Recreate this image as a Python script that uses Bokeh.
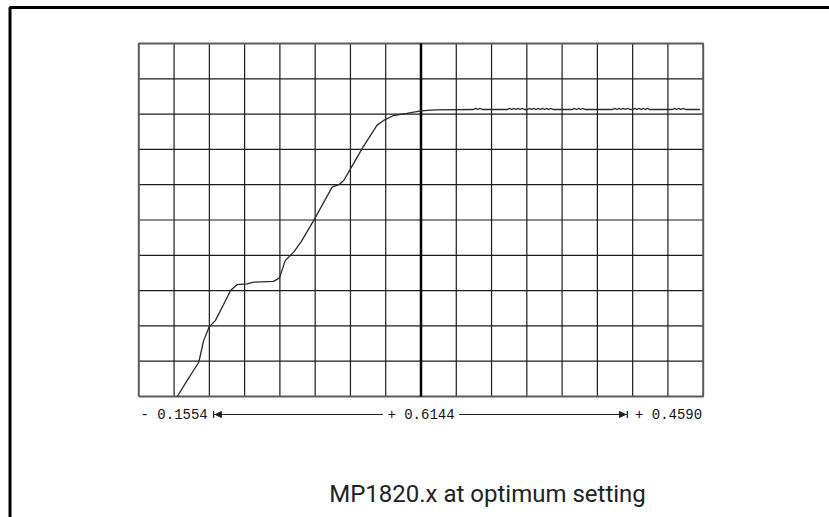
from bokeh.plotting import figure
from bokeh.models import Range1d, Arrow, NormalHead, TeeHead
from bokeh.core.properties import value
from bokeh.embed import file_html
from bokeh.resources import INLINE

# ---- data (in screen divisions: 16 horizontal x 10 vertical) ----
n_cols = 16
n_rows = 10
center_col = 8

curve_x = [1.09, 1.40, 1.70, 1.84, 2.00, 2.17, 2.40, 2.60, 2.79, 3.07, 3.26, 3.82,
           3.99, 4.15, 4.39, 4.60, 4.96, 5.48, 5.67, 5.81, 6.00, 6.33, 6.75, 6.94,
           7.22, 7.60, 7.83, 8.00, 8.40, 9.49, 9.55, 9.61, 9.67, 9.74,
           10.45, 10.51, 10.57, 10.63, 10.69, 10.75, 10.81, 10.87, 10.93, 11.02,
           11.08, 11.14, 11.20, 11.26, 11.32, 11.38, 11.44, 11.50, 11.56, 11.62,
           11.68, 11.75, 12.29, 12.35, 12.41, 12.47, 12.53, 12.59, 12.65, 12.72,
           13.43, 13.49, 13.55, 13.61, 13.67, 13.73, 13.79, 13.85, 13.94, 14.00,
           14.06, 14.12, 14.18, 14.24, 14.30, 14.36, 14.42, 14.48, 14.57,
           15.13, 15.19, 15.25, 15.31, 15.37, 15.43, 15.50, 15.91]
curve_y = [0.00, 0.50, 0.97, 1.59, 1.98, 2.15, 2.60, 3.00, 3.17, 3.19, 3.24, 3.26,
           3.36, 3.85, 4.09, 4.38, 4.99, 5.93, 6.00, 6.12, 6.45, 7.02, 7.68, 7.82,
           7.96, 8.02, 8.06, 8.09, 8.12, 8.13, 8.16, 8.13, 8.16, 8.13,
           8.13, 8.16, 8.13, 8.16, 8.13, 8.16, 8.13, 8.16, 8.13, 8.13,
           8.16, 8.13, 8.16, 8.13, 8.16, 8.13, 8.16, 8.13, 8.16, 8.13,
           8.16, 8.13, 8.13, 8.16, 8.13, 8.16, 8.13, 8.16, 8.13, 8.13,
           8.13, 8.16, 8.13, 8.16, 8.13, 8.16, 8.13, 8.16, 8.13, 8.13,
           8.16, 8.13, 8.16, 8.13, 8.16, 8.13, 8.16, 8.13, 8.13,
           8.13, 8.16, 8.13, 8.16, 8.13, 8.16, 8.13, 8.13]

scale_labels = ["- 0.1554", "+ 0.6144", "+ 0.4590"]
caption = "MP1820.x at optimum setting"

# ---- layout ----
W, H = 829, 517
px_x = 35.275          # pixels per division (x)
px_y = 35.3            # pixels per division (y)
grid_left = 138.3      # canvas px of grid left edge
grid_bottom = 396.0    # canvas px (from top) of grid bottom edge

x0 = -grid_left / px_x
x1 = (W - grid_left) / px_x
y1 = grid_bottom / px_y
y0 = (grid_bottom - H) / px_y

p = figure(width=W, height=H, x_range=Range1d(x0, x1), y_range=Range1d(y0, y1),
           output_backend="svg", toolbar_location=None, min_border=0,
           x_axis_location=None, y_axis_location=None)
p.grid.visible = False
p.outline_line_color = None
p.background_fill_color = "white"
p.border_fill_color = "white"

# outer L-shaped frame
fx = x0 + 9.5 / px_x
fy = y1 - 7.0 / px_y
p.line([fx, fx, x1 + 1], [y0, fy, fy], line_color="black", line_width=3)

# grid
inner_cols = [c for c in range(1, n_cols) if c != center_col]
inner_rows = list(range(1, n_rows))
p.segment(x0=inner_cols, y0=[0] * len(inner_cols), x1=inner_cols, y1=[n_rows] * len(inner_cols),
          line_color="#1c1c1c", line_width=1.2)
p.segment(x0=[0] * len(inner_rows), y0=inner_rows, x1=[n_cols] * len(inner_rows), y1=inner_rows,
          line_color="#1c1c1c", line_width=1.2)
# grid border
p.line([0, n_cols, n_cols, 0, 0], [0, 0, n_rows, n_rows, 0], line_color="#5a5a5a", line_width=2)
# centre line
p.segment(x0=[center_col], y0=[0], x1=[center_col], y1=[n_rows], line_color="black", line_width=2.5)

# curve
p.line(curve_x, curve_y, line_color="#2a2a2a", line_width=1.3)

# scale annotation row
ly = -0.51
mono = value("Liberation Mono")
p.text(x=[0.05], y=[ly], text=[scale_labels[0]], text_font=mono, text_font_size="14px",
       text_align="left", text_baseline="middle", text_color="#111111")
p.text(x=[center_col], y=[ly], text=[scale_labels[1]], text_font=mono, text_font_size="14px",
       text_align="center", text_baseline="middle", text_color="#111111")
p.text(x=[n_cols - 0.03], y=[ly], text=[scale_labels[2]], text_font=mono, text_font_size="14px",
       text_align="right", text_baseline="middle", text_color="#111111")

la0, la1 = 2.12, 6.91
ra0, ra1 = 9.09, 13.85
p.add_layout(Arrow(x_start=la0, y_start=ly, x_end=la1, y_end=ly, line_color="#222222", line_width=1.2,
                   start=TeeHead(size=7, line_color="#222222", line_width=1.2), end=None))
p.add_layout(Arrow(x_start=la0 + 0.05, y_start=ly, x_end=la1, y_end=ly, line_color="#222222", line_width=1.2,
                   start=NormalHead(size=6, fill_color="#222222", line_color="#222222"), end=None))
p.add_layout(Arrow(x_start=ra0, y_start=ly, x_end=ra1, y_end=ly, line_color="#222222", line_width=1.2,
                   end=TeeHead(size=7, line_color="#222222", line_width=1.2), start=None))
p.add_layout(Arrow(x_start=ra0, y_start=ly, x_end=ra1 - 0.05, y_end=ly, line_color="#222222", line_width=1.2,
                   end=NormalHead(size=6, fill_color="#222222", line_color="#222222"), start=None))

# caption
p.text(x=[9.885], y=[-2.76], text=[caption], text_font=value("Roboto"), text_font_size="24px",
       text_align="center", text_baseline="alphabetic", text_color="#222222")

open("out.html", "w").write(file_html(p, INLINE))
